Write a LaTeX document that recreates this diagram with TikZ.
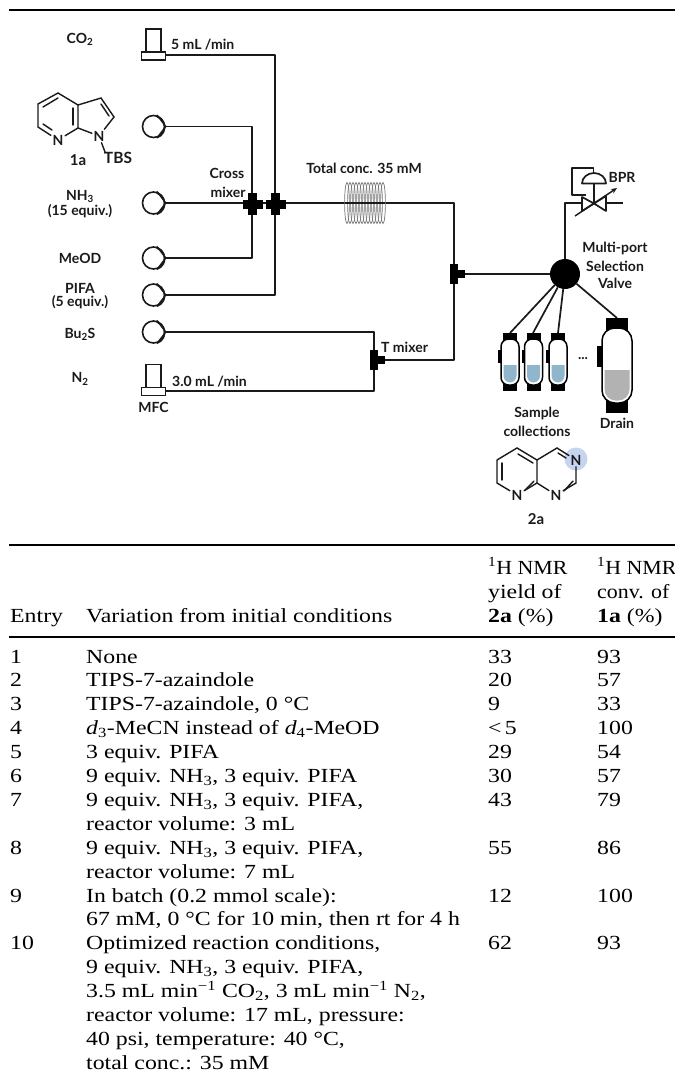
\documentclass[tikz,border=0pt]{standalone}
\usepackage{fontspec}
\setmainfont[FakeStretch=1.19]{Liberation Serif}
\newfontfamily\lblfont{Lato}
\usetikzlibrary{arrows.meta,calc}
\definecolor{ink}{HTML}{1A1A1A}
\definecolor{liq}{HTML}{8FB6CA}
\definecolor{drainliq}{HTML}{B2B2B2}
\definecolor{hilite}{HTML}{C6D4F0}
\tikzset{
  x=1pt,y=-1pt,
  pipe/.style={draw=ink,line width=1.7pt,line join=round},
  rule/.style={draw=black,line width=2pt},
  lbl/.style={font=\lblfont\bfseries\fontsize{14}{13}\selectfont,text=ink,inner sep=0pt,align=center},
  tb/.style={font=\fontsize{20}{24}\selectfont,text=black,anchor=base west,inner sep=0pt},
  pumpnode/.style={circle,draw=ink,line width=1.6pt,fill=white,minimum size=22pt,inner sep=0pt},
  mfctop/.style={draw=ink,line width=1.5pt,fill=white,minimum width=15pt,minimum height=23pt,inner sep=0pt},
  mfcbase/.style={draw=ink,line width=1.5pt,fill=white,minimum width=24pt,minimum height=8pt,inner sep=0pt},
  bond/.style={draw=ink,line width=1.4pt,line cap=round},
  atom/.style={font=\lblfont\bfseries\fontsize{14}{14}\selectfont,text=ink,inner sep=1.5pt,fill=none},
  vesselbody/.style={draw=black,line width=1.5pt,fill=white,inner sep=0pt},
}
\newcommand{\mkpump}[3]{%
  \node[pumpnode] (#1) at (#2,#3) {};
  \coordinate (#1tip) at (#2+12.3,#3);
  \draw[ink,line width=1.4pt,fill=ink!70,line join=round] (#1.72) -- (#1tip) -- (#1.-72) arc[start angle=-72,end angle=72,radius=11pt] -- cycle;
}
\newcommand{\mkmixer}[3]{%
  \coordinate (#1) at (#2,#3);
  \fill[black] (#2-10,#3-4.5) rectangle (#2+10,#3+4.5);
  \fill[black] (#2-4.5,#3-11) rectangle (#2+4.5,#3+11);
}
\newcommand{\mktee}[3]{%
  \coordinate (#1) at (#2,#3);
  \fill[black] (#2-4,#3-10) rectangle (#2+4,#3+10);
  \fill[black] (#2,#3-4) rectangle (#2+11,#3+4);
}
\newcommand{\mkvessel}[9]{%
  \fill[black] (#2-#8,#3-#9) rectangle (#2+#8,#3+3);
  \fill[black] (#2-#8,#4-3) rectangle (#2+#8,#4+#9);
  \node[vesselbody,rounded corners=#5*0.85pt,minimum width=2*#5 pt,minimum height=#4-#3 pt] (#1) at (#2,{(#3+#4)/2}) {};
  \coordinate (#1top) at (#2,#3-#9);
  \begin{scope}
    \clip[rounded corners=#5*0.75pt] (#2-#5+2.5,#3+2.5) rectangle (#2+#5-2.5,#4-2.5);
    \fill[#7] (#2-#5,#6) rectangle (#2+#5,#4);
  \end{scope}
}
\newcommand{\hdrfit}[1]{\scalebox{0.92}[1]{#1}}
\begin{document}
\begin{tikzpicture}
\useasboundingbox (0,0) rectangle (675,1080);
\fill[white] (0,0) rectangle (675,1080);
% rules
\coordinate (r1a) at (9,10); \coordinate (r1b) at (675,10);
\coordinate (r2a) at (9,545); \coordinate (r2b) at (675,545);
\coordinate (r3a) at (9,637); \coordinate (r3b) at (675,637);
\draw[rule] (r1a) -- (r1b);
\draw[rule] (r2a) -- (r2b);
\draw[rule] (r3a) -- (r3b);

% junction coordinates
\coordinate (coilin) at (345,203);
\coordinate (j2) at (454,203);
\coordinate (j3) at (454,360);
\coordinate (sensorL) at (565,203);
\coordinate (bpr) at (594,203);
\coordinate (bprout) at (623,203);
\coordinate (m1) at (252,203);
\coordinate (m2) at (275,203);
\coordinate (t1) at (374,360);
\coordinate (t2) at (454,274);
\coordinate (valvec) at (565,274);
\coordinate (co2out) at (165,55);
\coordinate (n2out) at (165,391);

\mkpump{pa}{153.5}{126.5}
\mkpump{pb}{153.5}{203}
\mkpump{pc}{153.5}{258}
\mkpump{pd}{153.5}{295}
\mkpump{pe}{153.5}{332}

\draw[pipe] (patip) -| (m1);
\draw[pipe] (pctip) -| (m1);
\draw[pipe] (pbtip) -- (m1) -- (m2) -- (coilin);
\draw[pipe] (co2out) -| (m2);
\draw[pipe] (pdtip) -| (m2);
\draw[pipe] (petip) -| (t1);
\draw[pipe] (n2out) -| (t1);
\draw[pipe] (t1) -- (j3) -- (j2) -- (coilin);
\draw[pipe] (t2) -- (valvec);

% coil
\foreach \cx in {347,350,...,383}{
  \draw[ink!60,line width=0.7pt] (\cx,203) ellipse[x radius=2.4pt,y radius=20.5pt];
}
\draw[ink,line width=1.6pt] (345,203) -- (384,203);

% mixers
\mkmixer{mx1}{252.5}{204}
\mkmixer{mx2}{275.5}{204}
\mktee{tee1}{374}{360}
\mktee{tee2}{454}{274}

% MFC
\node[mfctop] (mfc1t) at (153.5,40.5) {};
\node[mfcbase] (mfc1b) at (153.5,56) {};
\node[mfctop] (mfc2t) at (153.5,376) {};
\node[mfcbase] (mfc2b) at (153.5,391.5) {};

% valve
\node[circle,fill=black,minimum size=30pt,inner sep=0pt] (valve) at (565,274) {};

% BPR
\draw[pipe] (valve) -- (sensorL) -- (bpr);
\draw[pipe,fill=white] (582,197) -- (582,211) -- (594,203.5) -- cycle;
\draw[pipe,fill=white] (606,196) -- (606,211) -- (594,203.5) -- cycle;
\draw[pipe] (606,203) -- (bprout);
\draw[pipe] (594,203) -- (594,184);
\draw[pipe,fill=white] (582,183.5) arc[start angle=180,end angle=0,x radius=12pt,y radius=10.5pt] -- cycle;
\draw[pipe] (586,195) -- (572,195) -- (572,168) -- (593.5,168) -- (593.5,173);
\draw[ink,line width=1.5pt,-{Stealth[length=6pt,width=5pt]}] (575,216) -- (617,188);

% vessels
\draw[pipe] (valve) -- (510,333);
\draw[pipe] (valve) -- (533,333);
\draw[pipe] (valve) -- (558,333);
\draw[pipe] (valve) -- (617,318);
\mkvessel{va}{510}{339}{385}{9}{365}{liq}{7}{6}
\mkvessel{vb}{533.5}{339}{385}{9}{365}{liq}{7}{6}
\mkvessel{vc}{558}{339}{385}{9}{365}{liq}{7}{6}
\mkvessel{vd}{617}{328}{403}{15}{370}{drainliq}{11}{10}
\fill[black] (497.5,350) rectangle (501,363);
\fill[black] (521.5,350) rectangle (525,363);
\fill[black] (546,350) rectangle (549.5,363);
\fill[black] (596.5,346) rectangle (602,367);

% 1a
\node[atom] (n1) at (58,140) {N};
\node[atom] (n2) at (99,136) {N};
\coordinate (a1) at (38,127); \coordinate (a2) at (38,104); \coordinate (a3) at (58,93);
\coordinate (a4) at (78,105); \coordinate (a5) at (78,128); \coordinate (a6) at (101,98);
\coordinate (a7) at (114,117);
\draw[bond] (n1) -- (a1) -- (a2) -- (a3) -- (a4) -- (a5) -- (n1);
\draw[bond] (a5) -- (n2) -- (a7) -- (a6) -- (a4);
\draw[bond] (43,124) -- (52,130);
\draw[bond] (43,107) -- (58,98);
\draw[bond] (73,108) -- (73,125);
\draw[bond] (101,104) -- (109,116);
\node[atom,font=\lblfont\bfseries\fontsize{15.5}{15}\selectfont] (tbs) at (118,158) {TBS};
\draw[bond] (n2) -- (105,152);
\node[lbl,font=\lblfont\bfseries\fontsize{15}{15}\selectfont] (l1a) at (78,160) {1a};

% 2a
\node[circle,fill=hilite,minimum size=23pt,inner sep=0pt] (hl) at (576,459) {};
\coordinate (b1) at (497,460); \coordinate (b2) at (497,483); \coordinate (b3) at (537,483);
\coordinate (b4) at (537,460); \coordinate (b5) at (517,448); \coordinate (b6) at (557,448);
\coordinate (b7) at (576,483);
\node[atom] (n3) at (517,495) {N};
\node[atom] (n4) at (556,495) {N};
\node[atom] (n5) at (576,460) {N};
\draw[bond] (b1) -- (b2) -- (n3) -- (b3) -- (b4) -- (b5) -- (b1);
\draw[bond] (b3) -- (n4) -- (b7) -- (n5) -- (b6) -- (b4);
\draw[bond] (502,463) -- (502,480);
\draw[bond] (518,454) -- (533,463);
\draw[bond] (525,490) -- (534,481);
\draw[bond] (558,453) -- (566,458);
\draw[bond] (564,491) -- (573,481);
\node[lbl,font=\lblfont\bfseries\fontsize{15}{15}\selectfont] (l2a) at (536,519) {2a};

% labels
\node[lbl] (lco2) at (80,39.5) {CO\textsubscript{2}};
\node[lbl] (lnh3) at (80,204) {NH\textsubscript{3}\\(15 equiv.)};
\node[lbl] (lmeod) at (80,258) {MeOD};
\node[lbl] (lpifa) at (80,296) {PIFA\\(5 equiv.)};
\node[lbl] (lbu) at (80,334) {Bu\textsubscript{2}S};
\node[lbl] (ln2) at (80,379) {N\textsubscript{2}};
\node[lbl,anchor=west] (lf1) at (171,45) {5 mL /min};
\node[lbl,anchor=west] (lf2) at (172,382) {3.0 mL /min};
\node[lbl] (lmfc) at (153.5,407) {MFC};
\node[lbl] (lcross) at (227,173.5) {Cross};
\node[lbl] (lmix) at (228,192) {mixer};
\node[lbl] (ltot) at (364,168) {Total conc. 35 mM};
\node[lbl,anchor=west] (lt) at (381,347) {T mixer};
\node[lbl] (lbpr) at (622,177) {BPR};
\node[lbl] (lmp) at (615,248) {Multi-port};
\node[lbl] (lsel) at (615,266) {Selection};
\node[lbl] (lval) at (615,283) {Valve};
\node[lbl] (ldots) at (583,359) {...};
\node[lbl] (lsam) at (537,413) {Sample};
\node[lbl] (lcol) at (537,431) {collections};
\node[lbl] (ldr) at (617,423) {Drain};

% table header
\node[tb] (h1a) at (488,574) {\hdrfit{\textsuperscript{1}H NMR}};
\node[tb] (h1b) at (488,598) {yield of};
\node[tb] (h1c) at (488,622) {\textbf{2a} (\%)};
\node[tb] (h2a) at (597,574) {\hdrfit{\textsuperscript{1}H NMR}};
\node[tb] (h2b) at (597,598) {\hdrfit{conv. of}};
\node[tb] (h2c) at (597,622) {\textbf{1a} (\%)};
\node[tb] (h0) at (10,622) {Entry};
\node[tb] (h01) at (86,622) {Variation from initial conditions};

% table rows
\newcommand{\trow}[5]{%
  \node[tb] (e#1) at (10,663+23.9*#2) {#1};
  \node[tb] (t#1) at (86,663+23.9*#2) {#3};
  \node[tb] (y#1) at (488,663+23.9*#2) {#4};
  \node[tb] (c#1) at (597,663+23.9*#2) {#5};
}
\newcommand{\tcont}[3]{\node[tb] (#1) at (86,663+23.9*#2) {#3};}
\trow{1}{0}{None}{33}{93}
\trow{2}{1}{TIPS-7-azaindole}{20}{57}
\trow{3}{2}{TIPS-7-azaindole, 0 °C}{9}{33}
\trow{4}{3}{\textit{d}\textsubscript{3}-MeCN instead of \textit{d}\textsubscript{4}-MeOD}{<\,5}{100}
\trow{5}{4}{3 equiv. PIFA}{29}{54}
\trow{6}{5}{9 equiv. NH\textsubscript{3}, 3 equiv. PIFA}{30}{57}
\trow{7}{6}{9 equiv. NH\textsubscript{3}, 3 equiv. PIFA,}{43}{79}
\tcont{t7b}{7}{reactor volume: 3 mL}
\trow{8}{8}{9 equiv. NH\textsubscript{3}, 3 equiv. PIFA,}{55}{86}
\tcont{t8b}{9}{reactor volume: 7 mL}
\trow{9}{10}{In batch (0.2 mmol scale):}{12}{100}
\tcont{t9b}{11}{67 mM, 0 °C for 10 min, then rt for 4 h}
\trow{10}{12}{Optimized reaction conditions,}{62}{93}
\tcont{t10b}{13}{9 equiv. NH\textsubscript{3}, 3 equiv. PIFA,}
\tcont{t10c}{14}{3.5 mL min\textsuperscript{−1} CO\textsubscript{2}, 3 mL min\textsuperscript{−1} N\textsubscript{2},}
\tcont{t10d}{15}{reactor volume: 17 mL, pressure:}
\tcont{t10e}{16}{40 psi, temperature: 40 °C,}
\tcont{t10f}{17}{total conc.: 35 mM}
\end{tikzpicture}
\end{document}
